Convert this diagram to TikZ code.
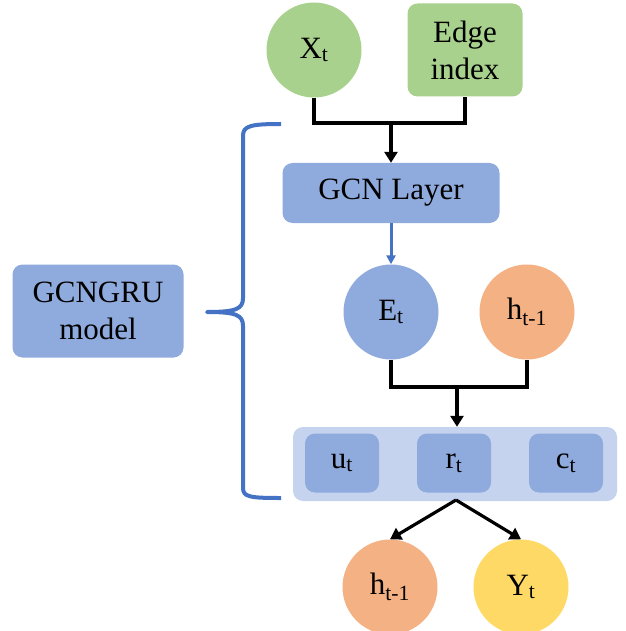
\documentclass[tikz,border=0pt]{standalone}
\usepackage{fontspec}
\setmainfont{Liberation Serif}
\usetikzlibrary{arrows.meta}

\definecolor{leafgreen}{HTML}{A9D18E}
\definecolor{gcnblue}{HTML}{8FAADC}
\definecolor{gatepale}{HTML}{C5D3EE}
\definecolor{statepeach}{HTML}{F4B183}
\definecolor{outyellow}{HTML}{FFD966}
\definecolor{bracblue}{HTML}{4472C4}

\tikzset{
  blob/.style={circle,fill=#1,draw=none,minimum size=95pt,inner sep=0pt},
  tile/.style={rectangle,rounded corners=10pt,fill=#1,draw=none,inner sep=0pt,align=center},
  wire/.style={line width=3.2pt,black},
  wirearrow/.style={wire,-{Triangle[length=11pt,width=13pt]}},
  bluewire/.style={line width=3pt,bracblue,-{Triangle[length=9pt,width=9pt]}},
  brace/.style={line width=4pt,bracblue,line join=round}
}

\begin{document}
\begin{tikzpicture}[x=1pt,y=-1pt,font=\fontsize{31}{37}\selectfont]
  \useasboundingbox (0,0) rectangle (625,631);

  % inputs
  \node[blob=leafgreen] (xt) at (314,50) {X\textsubscript{t}};
  \node[tile=leafgreen,minimum width=115pt,minimum height=93pt] (edge) at (465,50) {Edge\\index};

  % graph convolution
  \node[tile=gcnblue,minimum width=217pt,minimum height=60pt] (gcn) at (391,193) {GCN Layer};
  \node[blob=gcnblue] (et) at (391,312) {E\textsubscript{t}};
  \node[blob=statepeach] (hprev) at (527,312) {h\textsubscript{t-1}};

  % gates
  \node[tile=gatepale,minimum width=324pt,minimum height=74pt] (gates) at (455,464) {};
  \node[tile=gcnblue,minimum width=74pt,minimum height=59pt] (ut) at (342,463) {u\textsubscript{t}};
  \node[tile=gcnblue,minimum width=74pt,minimum height=59pt] (rt) at (454,463) {r\textsubscript{t}};
  \node[tile=gcnblue,minimum width=74pt,minimum height=59pt] (ct) at (566,463) {c\textsubscript{t}};

  % outputs
  \node[blob=statepeach] (hnext) at (390,587) {h\textsubscript{t-1}};
  \node[blob=outyellow] (yt) at (521,587) {Y\textsubscript{t}};

  % model label
  \node[tile=gcnblue,minimum width=171pt,minimum height=93pt] (model) at (98,311) {GCNGRU\\model};

  % joins
  \coordinate (topjoin) at (391,123);
  \coordinate (midjoin) at (457,387);
  \coordinate (split) at (456,500);

  \draw[wire] (xt.south) |- (topjoin) -| (edge.south);
  \draw[wirearrow] (topjoin) -- (gcn.north);
  \draw[bluewire] (gcn.south) -- (et.north);
  \draw[wire] (et.south) |- (midjoin) -| (hprev.south);
  \draw[wirearrow] (midjoin) -- (midjoin |- gates.north);
  \draw[wirearrow] (split) -- (hnext.north);
  \draw[wirearrow] (split) -- (yt.north);

  % curly brace
  \draw[brace] (281,124) .. controls (250,124) and (243,126) .. (243,136)
    -- (243,298) .. controls (243,309) and (236,312) .. (207,312)
    .. controls (236,312) and (243,315) .. (243,326)
    -- (243,488) .. controls (243,497) and (250,498) .. (281,498);
\end{tikzpicture}
\end{document}
